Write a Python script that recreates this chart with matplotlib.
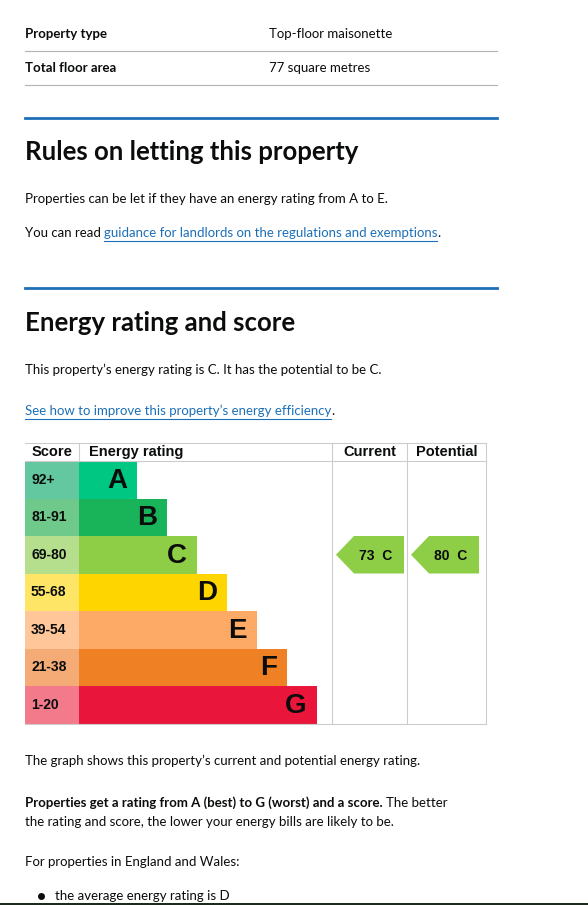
import matplotlib
matplotlib.use('Agg')
import matplotlib.pyplot as plt
from matplotlib.patches import Rectangle, Polygon

# data
bands = ['A', 'B', 'C', 'D', 'E', 'F', 'G']
score_ranges = ['92+', '81-91', '69-80', '55-68', '39-54', '21-38', '1-20']
band_lows = [92, 81, 69, 55, 39, 21, 1]
score_colors = ['#63c7a0', '#6ec98a', '#b5df8c', '#ffe566', '#ffc69a', '#f4ab76', '#f27a8a']
bar_colors = ['#00c781', '#19b459', '#8dce46', '#ffd500', '#fcaa65', '#ef8023', '#e9153b']
current_score = 73
potential_score = 80
property_rows = [('Property type', 'Top-floor maisonette'), ('Total floor area', '77 square metres')]

def band_of(score):
    for i, low in enumerate(band_lows):
        if score >= low:
            return i
    return len(bands) - 1

plt.rcParams['font.family'] = ['Lato', 'DejaVu Sans']
fig = plt.figure(figsize=(5.88, 9.05), dpi=100)
ax = fig.add_axes([0, 0, 1, 1])
ax.set_xlim(0, 588)
ax.set_ylim(905, 0)
ax.axis('off')
renderer = fig.canvas.get_renderer()

blue = '#1d70b8'
txt = '#0b0c0c'
grey = '#b1b4b6'
fs = 9.5

def right_of(t, gap=0):
    # x (data) of the right edge of a text artist
    bb = t.get_window_extent(renderer)
    return ax.transData.inverted().transform((bb.x1, bb.y0))[0] + gap

def link(x, y, s):
    t = ax.text(x, y, s, fontsize=fs, va='center', color=blue)
    xr = right_of(t)
    ax.plot([x, xr], [y + 8, y + 8], color=blue, lw=0.8)
    ax.text(xr, y, '.', fontsize=fs, va='center', color=txt)

# property table
for i, (k, v) in enumerate(property_rows):
    y = 34 + i * 34.5
    ax.text(25, y, k, fontsize=fs, fontweight='bold', va='center', color=txt)
    ax.text(269, y, v, fontsize=fs, va='center', color=txt)
    ax.plot([25, 497], [y + 17, y + 17], color=grey, lw=0.8)

# rules section
ax.plot([25, 497], [118, 118], color=blue, lw=2)
ax.text(25, 152, 'Rules on letting this property', fontsize=18.5, fontweight='bold', va='center', color=txt)
ax.text(25, 199, 'Properties can be let if they have an energy rating from A to E.', fontsize=fs, va='center', color=txt)
t = ax.text(25, 233, 'You can read', fontsize=fs, va='center', color=txt)
link(right_of(t, 3), 233, 'guidance for landlords on the regulations and exemptions')

# energy section
ax.plot([25, 497], [288, 288], color=blue, lw=2)
ax.text(25, 323, 'Energy rating and score', fontsize=18.5, fontweight='bold', va='center', color=txt)
ax.text(25, 370, "This property\u2019s energy rating is C. It has the potential to be C.", fontsize=fs, va='center', color=txt)
link(25, 411, "See how to improve this property\u2019s energy efficiency")

# chart
top, head, row_h = 443, 461, 37.5
x0, score_w = 25, 54
bar_start = x0 + score_w
cur_l, pot_l, right = 332, 407, 486
bottom = head + row_h * len(bands)
cf = ['Liberation Sans', 'DejaVu Sans']
lc = '#cccccc'
ax.plot([x0, right], [top, top], color=lc, lw=0.8)
ax.plot([x0, right], [head, head], color=lc, lw=0.8)
ax.plot([x0, right], [bottom, bottom], color=lc, lw=0.8)
for xv in [cur_l, pot_l, right]:
    ax.plot([xv, xv], [top, bottom], color=lc, lw=0.8)
ax.plot([bar_start, bar_start], [top, head], color=lc, lw=0.8)
ax.text(32, 452, 'Score', family=cf, fontsize=10.5, fontweight='bold', va='center', color=txt)
ax.text(89, 452, 'Energy rating', family=cf, fontsize=10.5, fontweight='bold', va='center', color=txt)
ax.text((cur_l + pot_l) / 2, 452, 'Current', family=cf, fontsize=10.5, fontweight='bold', va='center', ha='center', color=txt)
ax.text((pot_l + right) / 2, 452, 'Potential', family=cf, fontsize=10.5, fontweight='bold', va='center', ha='center', color=txt)

for i, b in enumerate(bands):
    y = head + i * row_h
    bar_w = 58 + 30 * i
    ax.add_patch(Rectangle((x0, y), score_w, row_h, color=score_colors[i], lw=0))
    ax.add_patch(Rectangle((bar_start, y), bar_w, row_h, color=bar_colors[i], lw=0))
    ax.text(x0 + 6, y + row_h / 2, score_ranges[i], family=cf, fontsize=10, fontweight='bold', va='center', color=txt)
    ax.text(bar_start + bar_w - 10, y + row_h / 2 + 1, b, family=cf, fontsize=20, fontweight='bold', va='center', ha='right', color=txt)

def arrow(xl, score):
    i = band_of(score)
    y = head + i * row_h
    xr = xl + 72
    pts = [(xl + 4, y + row_h / 2), (xl + 22, y), (xr, y), (xr, y + row_h), (xl + 22, y + row_h)]
    ax.add_patch(Polygon(pts, closed=True, color=bar_colors[i], lw=0))
    ax.text(xl + 44, y + row_h / 2 + 1, '%d  %s' % (score, bands[i]), family=cf, fontsize=10,
            fontweight='bold', va='center', ha='center', color=txt)

arrow(cur_l, current_score)
arrow(pot_l, potential_score)

# text below chart
ax.text(25, 761, "The graph shows this property\u2019s current and potential energy rating.", fontsize=fs, va='center', color=txt)
t = ax.text(25, 803, 'Properties get a rating from A (best) to G (worst) and a score.', fontsize=fs, fontweight='bold', va='center', color=txt)
ax.text(right_of(t, 3), 803, 'The better', fontsize=fs, va='center', color=txt)
ax.text(25, 822, 'the rating and score, the lower your energy bills are likely to be.', fontsize=fs, va='center', color=txt)
ax.text(25, 862, 'For properties in England and Wales:', fontsize=fs, va='center', color=txt)
ax.plot([41], [896], marker='o', ms=4, color=txt)
ax.text(55, 896, 'the average energy rating is D', fontsize=fs, va='center', color=txt)
ax.add_patch(Rectangle((0, 903), 588, 2, color='#1f2a1f', lw=0))

fig.savefig('out.png', dpi=100)
